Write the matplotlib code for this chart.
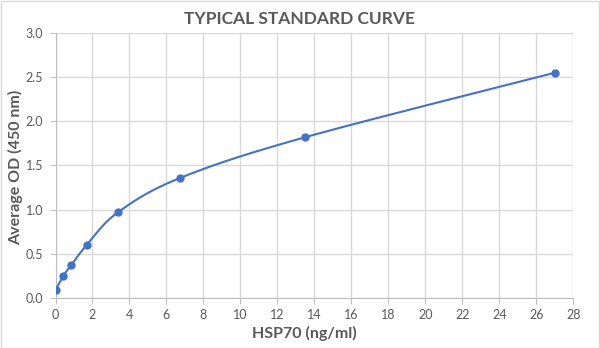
import numpy as np
import matplotlib
matplotlib.use("Agg")
import matplotlib.pyplot as plt

conc = [0, 0.42, 0.84, 1.69, 3.375, 6.75, 13.5, 27]
od = [0.09, 0.25, 0.37, 0.60, 0.97, 1.36, 1.82, 2.55]
xticks = list(range(0, 29, 2))
yticks = [0.0, 0.5, 1.0, 1.5, 2.0, 2.5, 3.0]

plt.rcParams['font.family'] = ['Lato', 'DejaVu Sans']
gray = '#595959'
blue = '#4472C4'

def smooth(x, y, n=40):
    x = np.asarray(x, float); y = np.asarray(y, float)
    xs, ys = [], []
    m = len(x)
    for i in range(m - 1):
        p0 = np.array([x[max(i-1, 0)], y[max(i-1, 0)]])
        p1 = np.array([x[i], y[i]])
        p2 = np.array([x[i+1], y[i+1]])
        p3 = np.array([x[min(i+2, m-1)], y[min(i+2, m-1)]])
        c1 = p1 + (p2 - p0) / 6.0
        c2 = p2 - (p3 - p1) / 6.0
        t = np.linspace(0, 1, n)[:, None]
        pts = ((1-t)**3) * p1 + 3*((1-t)**2)*t*c1 + 3*(1-t)*t**2*c2 + t**3*p2
        xs.append(pts[:, 0]); ys.append(pts[:, 1])
    return np.concatenate(xs), np.concatenate(ys)

fig = plt.figure(figsize=(6, 3.48), dpi=100)
ax = fig.add_axes([0.0925, 0.1437, 0.863, 0.7615])

sx, sy = smooth(conc, od)
ax.plot(sx, sy, color=blue, lw=1.5, zorder=3)
ax.plot(conc, od, 'o', color=blue, ms=5, zorder=4)

ax.set_xlim(0, 28)
ax.set_ylim(0, 3)
ax.set_xticks(xticks)
ax.set_yticks(yticks)
ax.set_yticklabels([f"{v:.1f}" for v in yticks])
ax.grid(True, color='#d9d9d9', lw=1)
ax.set_axisbelow(True)
for s in ['top', 'right']:
    ax.spines[s].set_visible(False)
for s in ['left', 'bottom']:
    ax.spines[s].set_color('#bfbfbf')
ax.tick_params(colors=gray, labelsize=9, length=4, color='#bfbfbf')
ax.tick_params(axis='y', pad=5)
ax.tick_params(axis='x', pad=4)

fig.text(0.507, 0.043, 'HSP70 (ng/ml)', ha='center', va='center',
         fontsize=11.5, fontweight='bold', color=gray)
fig.text(0.026, 1 - 167/348, 'Average OD (450 nm)', ha='center', va='center',
         rotation=90, fontsize=11.5, fontweight='bold', color=gray)
fig.text(0.5, 0.945, 'TYPICAL STANDARD CURVE', ha='center', va='center',
         fontsize=12.5, fontweight='bold', color=gray)

fig.patches.append(matplotlib.patches.Rectangle((0.001, 0.001), 0.997, 0.996,
                   transform=fig.transFigure, fill=False, edgecolor='#d9d9d9', lw=1))

fig.savefig('out.png', dpi=100)
